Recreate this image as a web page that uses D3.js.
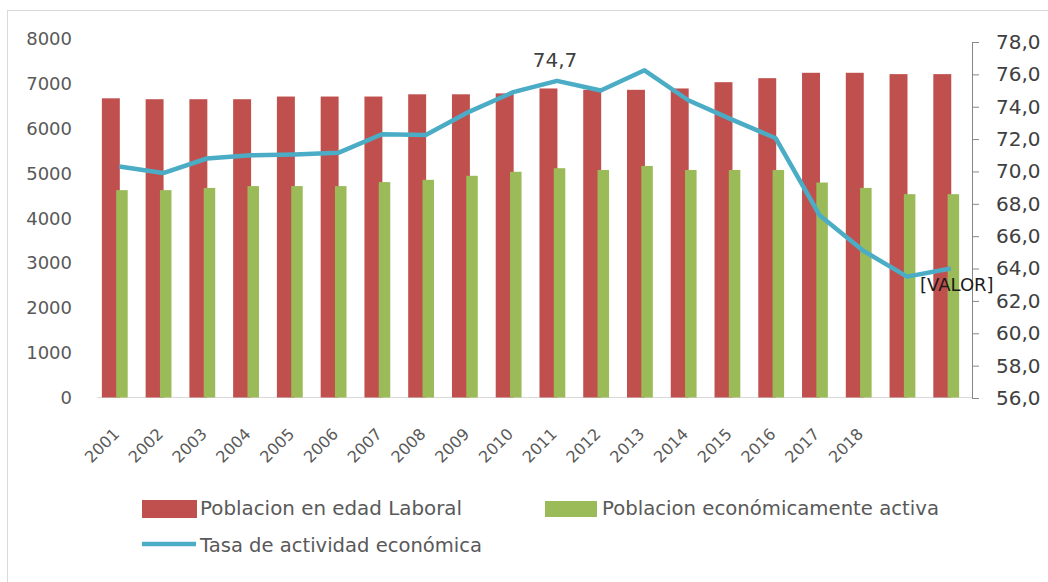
<!DOCTYPE html>
<html><head><meta charset="utf-8">
<script src="https://cdn.jsdelivr.net/npm/d3@7"></script>
<style>body{margin:0;background:#fff}svg{display:block}</style>
</head><body><svg id="c" width="1048" height="582"></svg>
<script>
const categories = ["2001","2002","2003","2004","2005","2006","2007","2008","2009","2010","2011","2012","2013","2014","2015","2016","2017","2018","",""];
const poblacionLaboral = [6680,6660,6660,6660,6720,6720,6720,6770,6770,6790,6900,6870,6870,6900,7040,7130,7250,7250,7220,7220];
const poblacionActiva = [4630,4630,4680,4720,4720,4720,4810,4860,4950,5040,5120,5080,5170,5080,5080,5080,4800,4680,4540,4540];
const tasaActividad = [70.3,69.9,70.8,71.0,71.05,71.15,72.3,72.25,73.7,74.9,75.6,75.0,76.25,74.4,73.2,72.05,67.3,65.1,63.5,64.0];
const leftTicks = [0,1000,2000,3000,4000,5000,6000,7000,8000];
const rightTicks = [56,58,60,62,64,66,68,70,72,74,76,78];
const labelIndex = [10,19];
const labelText = ["74,7","[VALOR]"];
const seriesNames = ["Poblacion en edad Laboral","Poblacion económicamente activa","Tasa de actividad económica"];
const colors = ["#C0504D","#9BBB59","#4BACC6"];

const svg = d3.select("#c");
const font = "DejaVu Sans, Verdana, sans-serif";

svg.append("rect").attr("x",7.5).attr("y",10.5).attr("width",1100).attr("height",1000)
  .attr("fill","none").attr("stroke","#d9d9d9");

const idx = d3.range(categories.length);
const x = d3.scaleBand().domain(idx).range([97.5,972.7]).paddingInner(0).paddingOuter(0);
const bw = x.bandwidth();
const yL = d3.scaleLinear().domain([0,8000]).range([397.5,39.2]);
const yR = d3.scaleLinear().domain([56,78]).range([398,42]);

// baseline
svg.append("line").attr("x1",97.5).attr("x2",972).attr("y1",yL(0)).attr("y2",yL(0)).attr("stroke","#d9d9d9");

// bars
svg.append("g").selectAll("rect").data(idx).join("rect")
  .attr("x",i=>x(i)+bw*0.1).attr("width",bw*0.41)
  .attr("y",i=>yL(poblacionLaboral[i])).attr("height",i=>yL(0)-yL(poblacionLaboral[i]))
  .attr("fill",colors[0]);
svg.append("g").selectAll("rect").data(idx).join("rect")
  .attr("x",i=>x(i)+bw*0.427).attr("width",bw*0.263)
  .attr("y",i=>yL(poblacionActiva[i])).attr("height",i=>yL(0)-yL(poblacionActiva[i]))
  .attr("fill",colors[1]);

// left axis
const gL = svg.append("g").attr("transform","translate(72,0)")
  .call(d3.axisLeft(yL).tickValues(leftTicks).tickSize(0).tickPadding(0).tickFormat(d3.format("d")));
gL.select(".domain").remove();
gL.selectAll("text").attr("font-family",font).attr("font-size",18).attr("fill","#595959");

// right axis
const gR = svg.append("g").attr("transform","translate(972,0)")
  .call(d3.axisRight(yR).tickValues(rightTicks).tickSize(7).tickSizeOuter(0).tickPadding(17)
    .tickFormat(d=>d.toFixed(1).replace(".",",")));
gR.select(".domain").attr("stroke","#868686");
gR.selectAll(".tick line").attr("stroke","#868686");
gR.selectAll("text").attr("font-family",font).attr("font-size",20).attr("fill","#404040");

// x labels
svg.append("g").selectAll("text").data(idx).join("text")
  .attr("transform",i=>`translate(${x(i)+bw/2+1},435) rotate(-45)`)
  .attr("text-anchor","end").attr("font-family",font).attr("font-size",16).attr("fill","#595959")
  .text(i=>categories[i]);

// line
const line = d3.line().x(i=>x(i)+bw/2).y(i=>yR(tasaActividad[i]));
svg.append("path").datum(idx).attr("d",line).attr("fill","none")
  .attr("stroke",colors[2]).attr("stroke-width",4.5).attr("stroke-linejoin","round");

// data labels
svg.append("text").attr("x",x(labelIndex[0])+bw/2-2).attr("y",yR(tasaActividad[labelIndex[0]])-14)
  .attr("text-anchor","middle").attr("font-family",font).attr("font-size",20).attr("fill","#404040").text(labelText[0]);
svg.append("text").attr("x",x(labelIndex[1])+bw/2+6).attr("y",yR(tasaActividad[labelIndex[1]])+22)
  .attr("text-anchor","middle").attr("font-family",font).attr("font-size",18).attr("fill","#1a1a1a").text(labelText[1]);

// legend
const lg = svg.append("g").attr("font-family",font).attr("font-size",19).attr("fill","#595959");
lg.append("rect").attr("x",142).attr("y",500).attr("width",55).attr("height",18).attr("fill",colors[0]);
lg.append("text").attr("x",200).attr("y",515).attr("textLength",262).attr("lengthAdjust","spacingAndGlyphs").text(seriesNames[0]);
lg.append("rect").attr("x",545).attr("y",501).attr("width",52).attr("height",16).attr("fill",colors[1]);
lg.append("text").attr("x",602).attr("y",515).attr("textLength",337).attr("lengthAdjust","spacingAndGlyphs").text(seriesNames[1]);
lg.append("line").attr("x1",142).attr("x2",196).attr("y1",544).attr("y2",544).attr("stroke",colors[2]).attr("stroke-width",4.5);
lg.append("text").attr("x",200).attr("y",552).attr("textLength",282).attr("lengthAdjust","spacingAndGlyphs").text(seriesNames[2]);
</script></body></html>
